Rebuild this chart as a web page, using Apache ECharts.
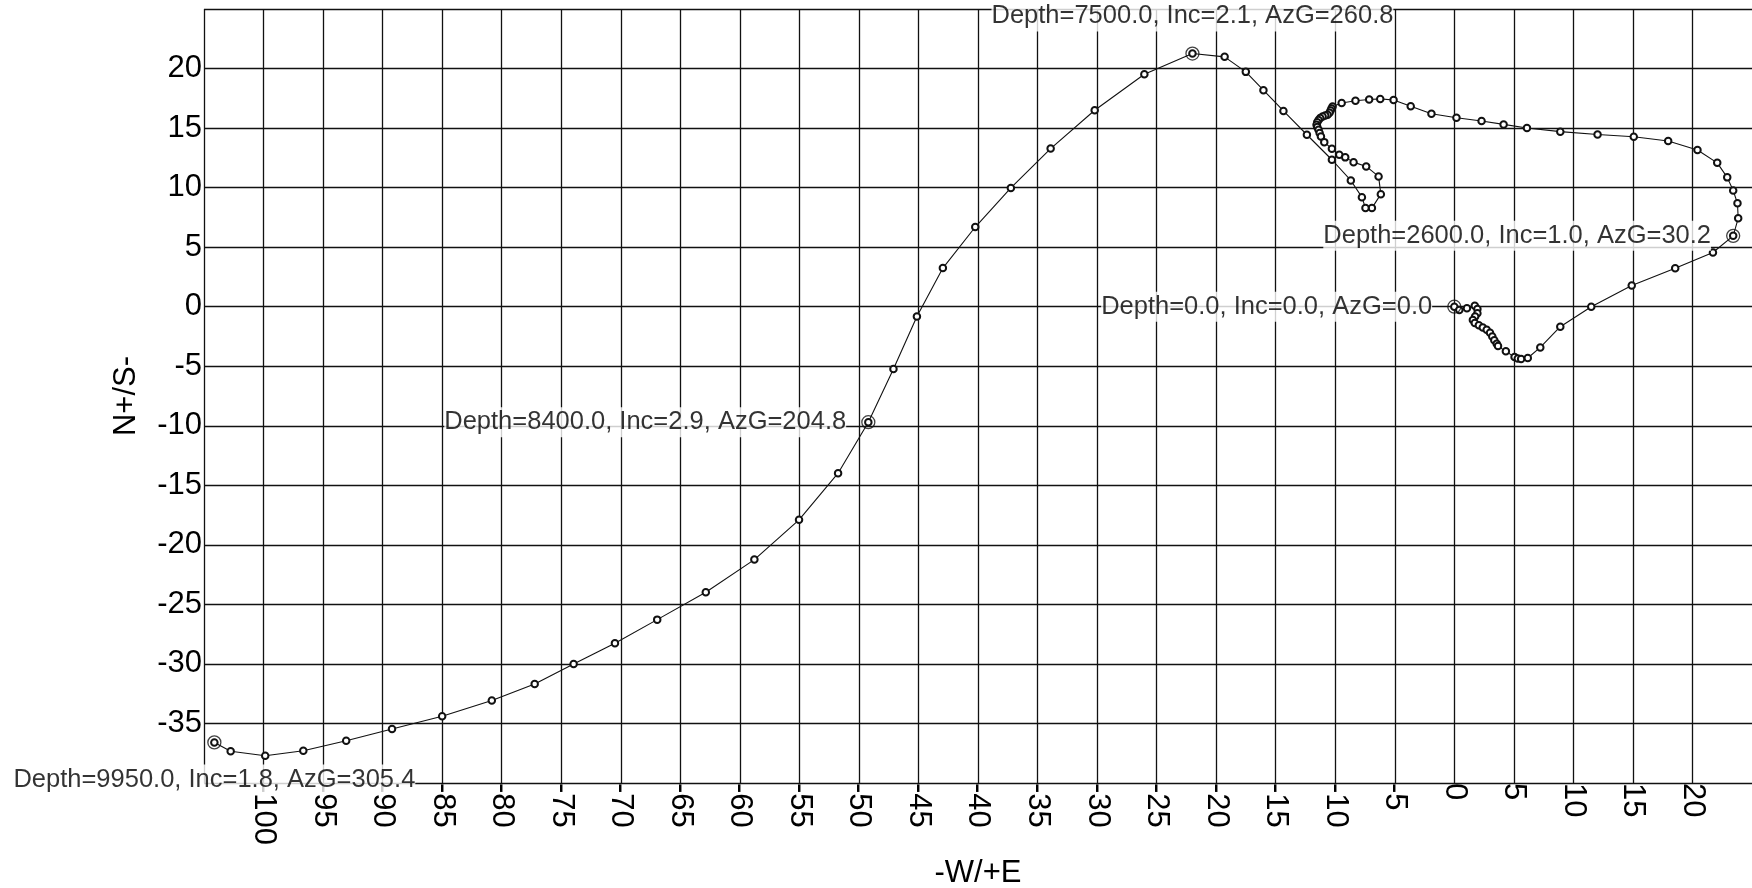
<!DOCTYPE html>
<html>
<head>
<meta charset="utf-8">
<script src="https://cdn.jsdelivr.net/npm/echarts@6/dist/echarts.min.js"></script>
<style>
  html, body { margin: 0; padding: 0; background: #fff; }
  #chart { width: 1752px; height: 888px; }
</style>
</head>
<body>
<div id="chart"></div>
<script>
// Survey stations, plan view: East(+)/West(-) and North(+)/South(-) offsets
const eastWest = [
  0, 0.42, 1.06, 1.72, 1.94, 1.94, 1.75, 1.56, 1.72, 2.06, 2.39, 2.72, 3.0, 3.19, 3.36, 3.56, 3.67, 4.33, 5.06, 5.33, 5.61, 6.17, 7.22, 8.9, 11.5, 14.9, 18.55, 21.72, 23.42,
  23.84, 23.78, 23.42, 22.92, 22.08, 20.42, 17.96, 15.07, 12.03, 8.9, 6.1, 4.14, 2.29, 0.18, -1.92, -3.66, -5.1, -6.22, -7.15, -8.3, -9.46, -10.22,
  -10.31, -10.39, -10.48, -10.64, -10.84, -11.06, -11.26, -11.40, -11.51, -11.57, -11.51, -11.40, -11.31, -11.20, -10.92, -10.28, -9.66, -9.16, -8.46, -7.40, -6.36, -6.17, -6.92, -7.46, -7.76, -8.69, -10.28, -12.38, -14.35, -16.03, -17.51, -19.29, -21.99,
  -26.03, -30.20, -33.90, -37.24, -40.23, -42.95, -45.13, -47.10, -49.21, -51.75, -55.03, -58.78, -62.86, -66.94, -70.49, -73.96, -77.23, -80.83, -85.0, -89.21, -93.06, -96.66, -99.86, -102.76, -104.13
];
const northSouth = [
  0, -0.28, -0.14, 0.08, -0.19, -0.56, -0.83, -1.11, -1.36, -1.56, -1.75, -1.94, -2.19, -2.5, -2.81, -3.11, -3.31, -3.75, -4.22, -4.36, -4.39, -4.31, -3.42, -1.68, 0.0, 1.78, 3.22, 4.55, 5.95,
  7.42, 8.68, 9.76, 10.86, 12.08, 13.16, 13.92, 14.27, 14.46, 14.7, 15.0, 15.31, 15.59, 15.87, 16.2, 16.83, 17.36, 17.45, 17.4, 17.3, 17.1, 16.82,
  16.65, 16.48, 16.29, 16.12, 16.06, 15.98, 15.84, 15.67, 15.48, 15.28, 15.08, 14.86, 14.58, 14.30, 13.82, 13.26, 12.76, 12.54, 12.14, 11.78, 10.94, 9.45, 8.28, 8.28, 9.20, 10.60, 12.34, 14.44, 16.44, 18.18, 19.72, 20.98, 21.26,
  19.52, 16.50, 13.28, 9.97, 6.69, 3.24, -0.82, -5.24, -9.70, -13.98, -17.90, -21.24, -23.98, -26.28, -28.27, -30.0, -31.68, -33.08, -34.40, -35.46, -36.45, -37.29, -37.71, -37.34, -36.59
];

// Annotated stations
const keyEastWest = [0, 23.42, -21.99, -49.21, -104.13];
const keyNorthSouth = [0, 5.95, 21.26, -9.70, -36.59];
const keyLabels = [
  'Depth=0.0, Inc=0.0, AzG=0.0',
  'Depth=2600.0, Inc=1.0, AzG=30.2',
  'Depth=7500.0, Inc=2.1, AzG=260.8',
  'Depth=8400.0, Inc=2.9, AzG=204.8',
  'Depth=9950.0, Inc=1.8, AzG=305.4'
];

// Axis settings
const xMin = -105, xMax = 25, xStep = 5;
const yMin = -40, yMax = 25, yStep = 5;
const xAxisTitle = '-W/+E';
const yAxisTitle = 'N+/S-';

const FONT = "'Liberation Sans', Arial, Helvetica, sans-serif";
const INK = '#111';
const labelPlacement = ['left', 'left', 'top', 'left', 'bottom'];

const chart = echarts.init(document.getElementById('chart'), null, { renderer: 'canvas' });

const pathData = eastWest.map((x, i) => [x, northSouth[i]]);
const keyData = keyEastWest.map((x, i) => ({
  value: [x, keyNorthSouth[i]],
  label: { position: labelPlacement[i] }
}));

const gridLine = { color: INK, width: 1.3, type: 'solid' };

const option = {
  animation: false,
  backgroundColor: '#fff',
  grid: { left: 204, top: 9, right: 0, bottom: 105, containLabel: false, outerBoundsMode: 'none' },
  xAxis: {
    type: 'value', min: xMin, max: xMax, interval: xStep,
    name: xAxisTitle, nameLocation: 'middle', nameGap: 75,
    nameTextStyle: { fontSize: 31, color: '#000', fontFamily: FONT },
    axisLine: { show: false, onZero: false },
    axisTick: { show: false },
    axisLabel: {
      rotate: -90, margin: 0, fontSize: 31, color: '#000', fontFamily: FONT,
      showMinLabel: false, showMaxLabel: false, hideOverlap: false
    },
    splitLine: { show: true, showMinLine: true, showMaxLine: false, lineStyle: gridLine }
  },
  yAxis: {
    type: 'value', min: yMin, max: yMax, interval: yStep,
    name: yAxisTitle, nameLocation: 'middle', nameGap: 62, nameRotate: 90,
    nameTextStyle: { fontSize: 31, color: '#000', fontFamily: FONT },
    axisLine: { show: false, onZero: false },
    axisTick: { show: false },
    axisLabel: {
      margin: 2, fontSize: 31, color: '#000', fontFamily: FONT,
      showMinLabel: false, showMaxLabel: false, hideOverlap: false
    },
    splitLine: { show: true, showMinLine: true, showMaxLine: true, lineStyle: gridLine }
  },
  series: [
    {
      type: 'line',
      data: pathData,
      symbol: 'emptyCircle',
      symbolSize: 6.5,
      showAllSymbol: true,
      lineStyle: { color: INK, width: 1.1 },
      itemStyle: { color: INK, borderColor: INK, borderWidth: 1.8 },
      emphasis: { disabled: true },
      z: 5
    },
    {
      type: 'scatter',
      data: keyData,
      symbol: 'circle',
      symbolSize: 13,
      clip: false,
      itemStyle: { color: 'rgba(0,0,0,0)', borderColor: INK, borderWidth: 1.3 },
      label: {
        show: true,
        formatter: p => keyLabels[p.dataIndex],
        fontSize: 25.5, color: '#000', fontFamily: FONT,
        backgroundColor: '#fff', padding: [2, 0], distance: 15
      },
      emphasis: { disabled: true },
      z: 10
    }
  ]
};

chart.setOption(option);
</script>
</body>
</html>
